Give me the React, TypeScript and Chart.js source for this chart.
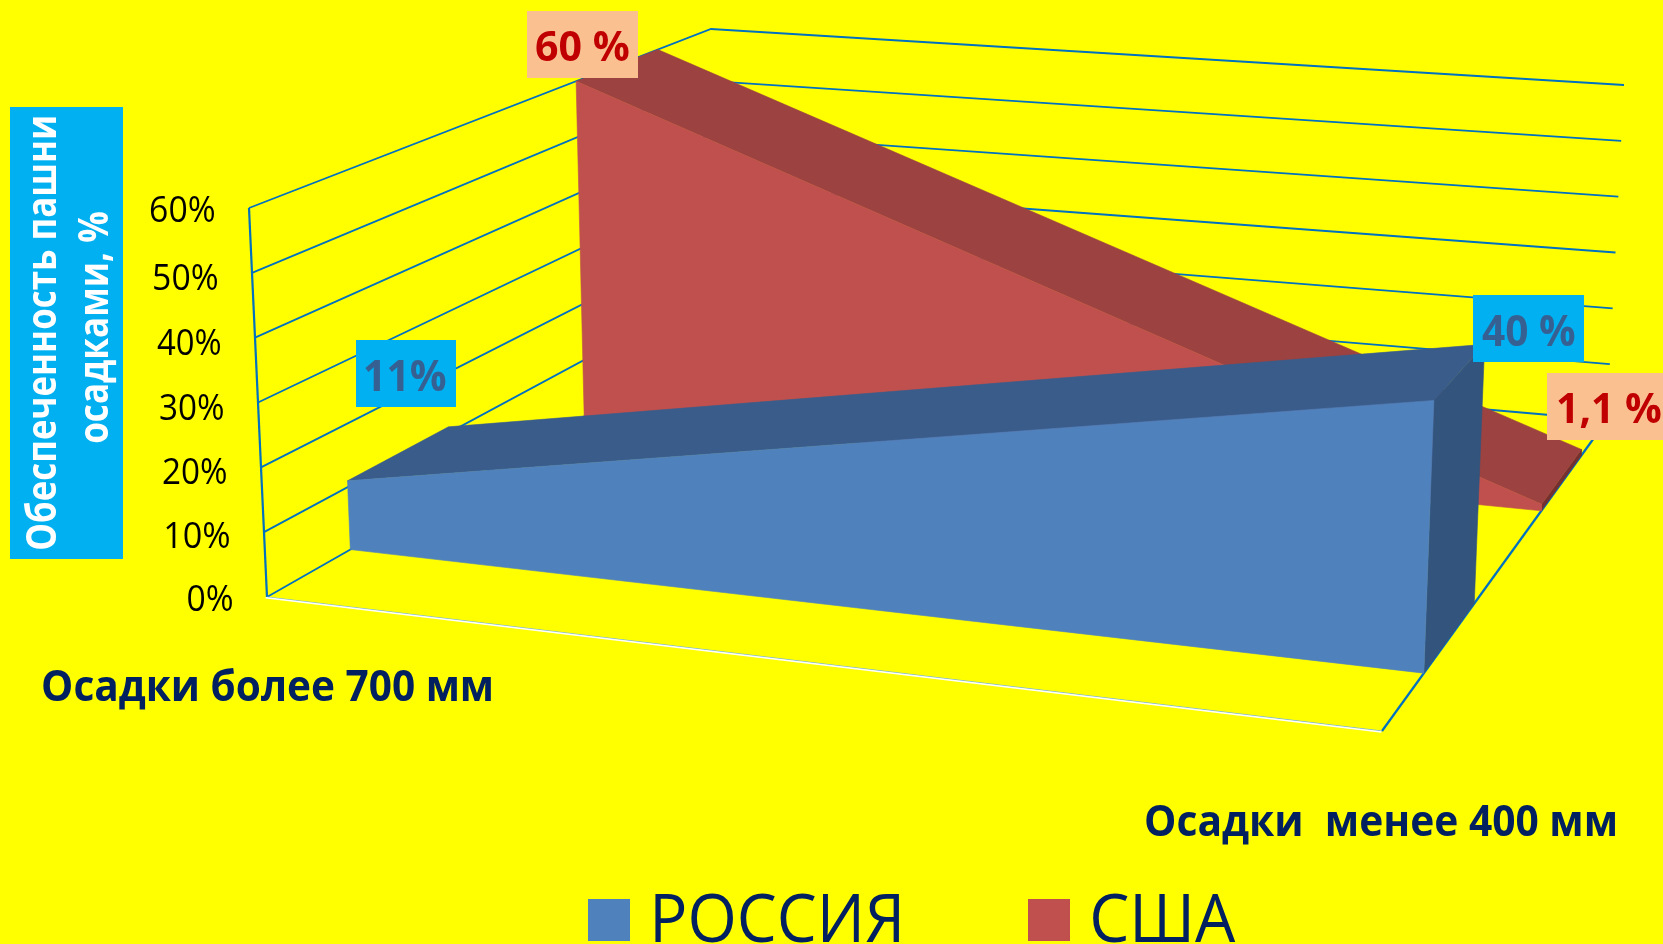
import React, { useEffect, useRef } from "react";
import { Chart, registerables } from "chart.js";

Chart.register(...registerables);

// ---- data ----
const categories = ["Осадки более 700 мм", "Осадки  менее 400 мм"];
const russiaValues = [11, 40];
const usaValues = [60, 1.1];
const seriesNames = ["РОССИЯ", "США"];
const valueTicks = [0, 10, 20, 30, 40, 50, 60];
const russiaLabels = ["11%", "40 %"];
const usaLabels = ["60 %", "1,1 %"];
const axisTitleLines = ["Обеспеченность пашни", "осадками, %"];

// ---- 3D box of the plot: screen position of its eight corners ----
type P = [number, number];
const VALUE_MAX = 60;
const corner: Record<string, P> = {
  f0l: [267, 597], f0r: [1382, 731], b0l: [715, 342], b0r: [1607, 420],
  f1l: [249, 208], f1r: [1396.6, 305], b1l: [711, 29], b1r: [1624, 85],
};
const mix = (a: P, b: P, t: number): P => [a[0] + (b[0] - a[0]) * t, a[1] + (b[1] - a[1]) * t];
// u: category position 0..1, v: value, d: depth 0 (front) .. 1 (back)
function project(u: number, v: number, d: number) {
  const floor = mix(mix(corner.f0l, corner.f0r, u), mix(corner.b0l, corner.b0r, u), d);
  const top = mix(mix(corner.f1l, corner.f1r, u), mix(corner.b1l, corner.b1r, u), d);
  const p = mix(floor, top, v / VALUE_MAX);
  return { x: p[0], y: p[1] };
}

const RUSSIA_DEPTH: P = [0.186, 0.41];
const USA_DEPTH: P = [0.708, 0.885];
const BG = "#ffff00";
const GRID = "#0070c0";
const NAVY = "#002060";
const BLUE = { front: "#4f81bd", top: "#3a5c8a", side: "#33547c" };
const RED = { front: "#c0504d", top: "#9c4240", side: "#74302e" };

function lineSet(data: { x: number; y: number }[], color: string, width = 1.8) {
  return { data, borderColor: color, borderWidth: width, backgroundColor: "transparent", showLine: true, pointRadius: 0, fill: false, tension: 0, clip: false };
}
function polySet(data: { x: number; y: number }[], color: string, label?: string) {
  return { label, data: [...data, data[0]], borderColor: color, borderWidth: 0.6, backgroundColor: color, showLine: true, pointRadius: 0, fill: "shape", tension: 0, clip: false };
}
function ribbon(values: number[], depth: P, c: { front: string; top: string; side: string }, label: string) {
  const [a, b] = values;
  const [d0, d1] = depth;
  return [
    polySet([project(1, 0, d0), project(1, b, d0), project(1, b, d1), project(1, 0, d1)], c.side),
    polySet([project(0, a, d0), project(1, b, d0), project(1, b, d1), project(0, a, d1)], c.top),
    polySet([project(0, 0, d0), project(0, a, d0), project(1, b, d0), project(1, 0, d0)], c.front, label),
  ];
}

type Txt = { text: string; x0: number; x1: number; base: number; size: number; weight: string; color: string };
function fit(ctx: CanvasRenderingContext2D, t: Txt) {
  ctx.save();
  ctx.font = `${t.weight} ${t.size}px "Open Sans"`;
  ctx.fillStyle = t.color;
  ctx.textAlign = "left";
  ctx.textBaseline = "alphabetic";
  const m = ctx.measureText(t.text);
  const ink = m.actualBoundingBoxRight + m.actualBoundingBoxLeft;
  const sx = (t.x1 - t.x0) / ink;
  ctx.translate(t.x0, t.base);
  ctx.scale(sx, 1);
  ctx.fillText(t.text, m.actualBoundingBoxLeft, 0);
  ctx.restore();
}
function box(ctx: CanvasRenderingContext2D, x0: number, y0: number, x1: number, y1: number, color: string) {
  ctx.fillStyle = color;
  ctx.fillRect(x0, y0, x1 - x0, y1 - y0);
}

const tickWidths = [44.5, 63, 63, 63, 63, 63, 63];
const tickDrop = [14, 16, 17, 17.5, 17.5, 17, 14];

const annotationPlugin = {
  id: "annotations",
  afterDraw(chart: Chart) {
    const ctx = chart.ctx;
    // value ticks
    valueTicks.forEach((v, i) => {
      const p = project(0, v, 0);
      fit(ctx, { text: `${v}%`, x0: p.x - 35 - tickWidths[i], x1: p.x - 35, base: p.y + tickDrop[i], size: 36, weight: "400", color: "#000000" });
    });
    // axis title
    box(ctx, 10, 107, 123, 559, "#00b0f0");
    ctx.save();
    ctx.translate(56, 549);
    ctx.rotate(-Math.PI / 2);
    fit(ctx, { text: axisTitleLines[0], x0: 0, x1: 432, base: 0, size: 41, weight: "700", color: "#ffffff" });
    ctx.restore();
    ctx.save();
    ctx.translate(108, 443);
    ctx.rotate(-Math.PI / 2);
    fit(ctx, { text: axisTitleLines[1], x0: 0, x1: 231, base: 0, size: 41, weight: "700", color: "#ffffff" });
    ctx.restore();
    // data labels
    box(ctx, 527, 11, 638, 78, "#fac090");
    fit(ctx, { text: usaLabels[0], x0: 536, x1: 629, base: 61, size: 42, weight: "700", color: "#c00000" });
    box(ctx, 356, 340, 456, 407, "#00b0f0");
    fit(ctx, { text: russiaLabels[0], x0: 365, x1: 446, base: 391, size: 43, weight: "700", color: "#376092" });
    box(ctx, 1473, 295, 1584, 362, "#00b0f0");
    fit(ctx, { text: russiaLabels[1], x0: 1482, x1: 1575, base: 346, size: 43, weight: "700", color: "#376092" });
    box(ctx, 1547, 373, 1663, 440, "#fac090");
    fit(ctx, { text: usaLabels[1], x0: 1558, x1: 1661, base: 423, size: 42, weight: "700", color: "#c00000" });
    // category labels
    fit(ctx, { text: categories[0], x0: 43, x1: 491, base: 701, size: 43, weight: "700", color: NAVY });
    fit(ctx, { text: categories[1], x0: 1146, x1: 1615, base: 836, size: 43, weight: "700", color: NAVY });
    // legend
    box(ctx, 588, 899, 630, 941, BLUE.front);
    fit(ctx, { text: seriesNames[0], x0: 655, x1: 899, base: 942, size: 67, weight: "400", color: NAVY });
    box(ctx, 1028, 899, 1070, 941, RED.front);
    fit(ctx, { text: seriesNames[1], x0: 1093, x1: 1236, base: 942, size: 67, weight: "400", color: NAVY });
  },
};

export default function App() {
  const ref = useRef<HTMLCanvasElement>(null);
  useEffect(() => {
    document.body.style.margin = "0";
    document.body.style.overflow = "hidden";
    const walls = valueTicks.map((v) => lineSet([project(0, v, 0), project(0, v, 1), project(1, v, 1)], GRID));
    const frame = [
      lineSet([project(0, 0, 0), project(0, VALUE_MAX, 0)], GRID, 2.2),
      lineSet([project(1, 0, 0), project(1, 0, 1)], GRID, 2.2),
      lineSet([project(0, 0, 0), project(1, 0, 0)], "#7fb8df", 1),
      lineSet([project(0, 0, -0.003), project(1, 0, -0.003)], "#ffffff", 1.6),
    ];
    // paint order, back to front
    const layers = [
      ...walls,
      ...frame,
      ...ribbon(usaValues, USA_DEPTH, RED, seriesNames[1]),
      ...ribbon(russiaValues, RUSSIA_DEPTH, BLUE, seriesNames[0]),
    ];
    const chart = new Chart(ref.current!, {
      type: "scatter",
      // Chart.js paints dataset 0 last
      data: { datasets: [...layers].reverse() as any },
      plugins: [
        {
          id: "background",
          beforeDraw(c: Chart) {
            c.ctx.save();
            c.ctx.fillStyle = BG;
            c.ctx.fillRect(0, 0, c.width, c.height);
            c.ctx.restore();
          },
        },
        annotationPlugin,
      ],
      options: {
        animation: false,
        responsive: false,
        layout: { padding: 0 },
        plugins: { legend: { display: false }, tooltip: { enabled: false } },
        scales: {
          x: { type: "linear", display: false, min: 0, max: 1663 },
          y: { type: "linear", display: false, min: 0, max: 944, reverse: true },
        },
      },
    });
    return () => chart.destroy();
  }, []);
  return <canvas ref={ref} width={1663} height={944} style={{ display: "block" }} />;
}
